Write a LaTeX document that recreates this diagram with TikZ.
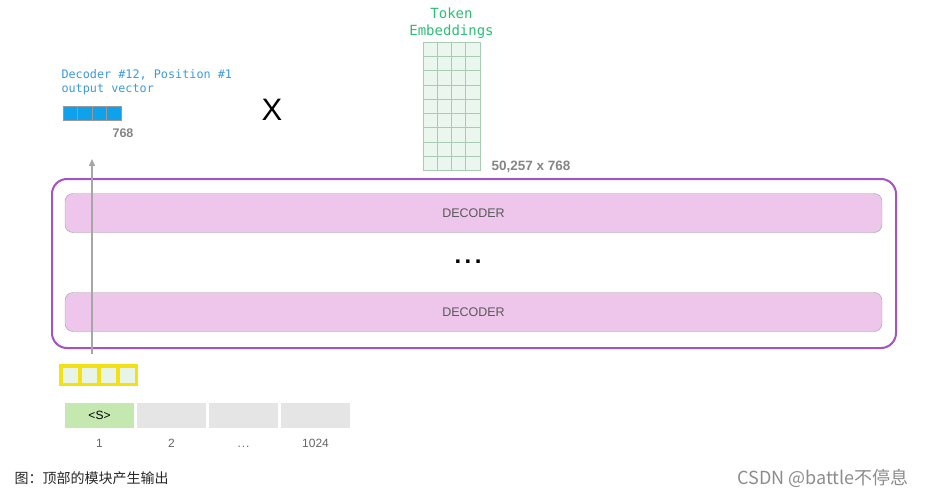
\documentclass[tikz,border=0pt]{standalone}
\usepackage{fontspec}
\setmainfont{Liberation Sans}
\setmonofont{DejaVu Sans Mono}
\newfontfamily\cjkfont{Noto Sans CJK SC}
\usetikzlibrary{arrows.meta,positioning,calc}
\definecolor{stackpurple}{HTML}{A552C4}
\definecolor{decpink}{HTML}{EEC6EB}
\definecolor{outblue}{HTML}{0EA1EC}
\definecolor{labelblue}{HTML}{3B9BDB}
\definecolor{embgreen}{HTML}{2DBE75}
\definecolor{embfill}{HTML}{EBF6EE}
\definecolor{embline}{HTML}{A9CBB3}
\definecolor{vecyellow}{HTML}{F3E015}
\definecolor{cellfill}{HTML}{E9F4E9}
\definecolor{tokgreen}{HTML}{C5E7B0}
\definecolor{tokgray}{HTML}{E5E5E5}

\begin{document}
\begin{tikzpicture}[
  x=1pt,y=-1pt,
  stack/.style={draw=stackpurple, line width=2pt, rounded corners=15pt, minimum width=844pt, minimum height=169pt},
  decoder/.style={draw=gray!75, fill=decpink, rounded corners=8pt, minimum width=817pt, minimum height=39pt, font=\fontsize{12.5}{14}\selectfont, text=black!65},
  token/.style={fill=tokgray, minimum width=69pt, minimum height=25pt, inner sep=0pt, font=\fontsize{12}{14}\selectfont},
  poslabel/.style={text=black!60, font=\fontsize{12}{14}\selectfont, text height=9pt, text depth=0pt},
  dim/.style={text=black!48, font=\bfseries\fontsize{13.5}{15}\selectfont},
  mono/.style={font=\ttfamily\fontsize{11.8}{14}\selectfont, align=left},
  arr/.style={-{Triangle[length=7pt,width=6pt]}, line width=1.5pt, draw=black!35}
]
\useasboundingbox (0,0) rectangle (925,497);
\node[stack] (stack) at (474,263.5) {};
\node[decoder] (dectop) at (473.5,213) {DECODER};
\node[decoder] (decbot) at (473.5,312) {DECODER};
\node[font=\bfseries\fontsize{24}{24}\selectfont] (dots) at (468,262) {.\hspace{3.5pt}.\hspace{3.5pt}.};

\node[fill=vecyellow, minimum width=79pt, minimum height=22pt, inner sep=0pt] (invec) at (98,375) {};
\foreach \i in {0,1,2,3}{\fill[cellfill] (62.5+19*\i,367.5) rectangle ++(15,15);}

\foreach \i/\lab/\num in {0/{<S>}/1,1/{}/2,2/{}/{.\kern1pt.\kern1pt.},3/{}/1024}{
  \node[token] (tok\i) at (99.5+72*\i,415.5) {\lab};
  \node[poslabel, below=7pt of tok\i] (num\i) {\num};
}
\fill[tokgreen] (tok0.south west) rectangle (tok0.north east);
\node[token, fill=none] at (tok0) {<S>};

\node[fill=outblue, draw=black!40, minimum width=58pt, minimum height=14pt, inner sep=0pt] (outvec) at (92,113) {};
\foreach \i in {1,2,3}{\draw[black!40] ($(outvec.south west)+(14.5*\i,0)$) -- ++(0,-14);}
\node[dim, anchor=north, font=\bfseries\fontsize{12.5}{14}\selectfont] (outdim) at (123,125) {768};
\node[mono, text=labelblue, anchor=south west] (outlabel) at (58,98) {Decoder \#12, Position \#1\\output vector};

\draw[arr] ($(invec.north)+(-6,-10)$) -- (92,159);

\node[font=\fontsize{31}{31}\selectfont] (times) at (272,110) {X};

\node[fill=embfill, draw=embline, minimum width=57pt, minimum height=128pt, inner sep=0pt] (emb) at (451.5,106) {};
\foreach \i in {1,2,3}{\draw[embline] ($(emb.south west)+(14.25*\i,0)$) -- ++(0,-128);}
\foreach \j in {1,...,8}{\draw[embline] ($(emb.south west)+(0,-14.22*\j)$) -- ++(57,0);}
\node[mono, text=embgreen, align=center, font=\ttfamily\fontsize{14}{17}\selectfont, anchor=south] (emblabel) at (451.5,42) {Token\\Embeddings};
\node[dim, anchor=west] (embdim) at (488,167) {50,257 x 768};

\node[anchor=west, text=black!85, font=\cjkfont\fontsize{14}{16}\selectfont] (caption) at (11,478) {图：顶部的模块产生输出};
\node[anchor=east, text=black!45, font=\cjkfont\fontsize{18}{20}\selectfont] (mark) at (912,478) {CSDN @battle不停息};
\end{tikzpicture}
\end{document}
